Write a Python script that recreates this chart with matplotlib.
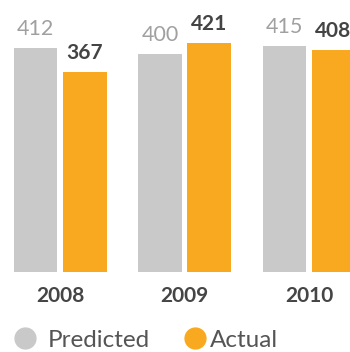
import matplotlib
matplotlib.use('Agg')
import matplotlib.pyplot as plt
from matplotlib.lines import Line2D
from matplotlib import transforms
import numpy as np

years = ['2008', '2009', '2010']
predicted = [412, 400, 415]
actual = [367, 421, 408]

GRAY = '#c9c9c9'
ORANGE = '#f8a91f'

plt.rcParams['font.family'] = ['Lato', 'DejaVu Sans']

W, H = 350, 352
dpi = 100
fig = plt.figure(figsize=(W / dpi, H / dpi), dpi=dpi)
fig.patch.set_facecolor('white')

# axes fill the width, zero line sits at 272 px from top
ax = fig.add_axes([0, 1 - 272 / H, 1, 272 / H])
ax.set_xlim(-0.482, 2.329)
ax.set_ylim(0, 500)
ax.axis('off')

x = np.arange(len(years))
bw = 0.353
off = 0.197

ax.bar(x - off, predicted, width=bw, color=GRAY)
ax.bar(x + off, actual, width=bw, color=ORANGE)

for xi, p, a in zip(x, predicted, actual):
    ax.annotate(str(p), (xi - off, p), xytext=(0, 9.5), textcoords='offset points',
                ha='center', va='baseline', fontsize=15.5, color='#a0a0a0')
    ax.annotate(str(a), (xi + off, a), xytext=(0, 9.5), textcoords='offset points',
                ha='center', va='baseline', fontsize=15, color='#444444',
                fontweight='bold')

# year labels
tr = transforms.blended_transform_factory(ax.transData, fig.transFigure)
for xi, yr in zip(x, years):
    ax.text(xi, 50 / H, yr, transform=tr, ha='center', va='baseline',
            fontsize=15, fontweight='bold', color='#454545', clip_on=False)

# legend drawn by hand
leg_y = (H - 338) / H
txt_y = (H - 347) / H
for cx, tx, col, lab in [(25, 48, GRAY, 'Predicted'), (195, 210, ORANGE, 'Actual')]:
    fig.add_artist(Line2D([cx / W], [leg_y], marker='o', markersize=15,
                          color=col, linestyle='none', transform=fig.transFigure))
    fig.text(tx / W, txt_y, lab, ha='left', va='baseline', fontsize=17.5,
             color='#555555')

fig.savefig('out.png', dpi=dpi, facecolor='white')
